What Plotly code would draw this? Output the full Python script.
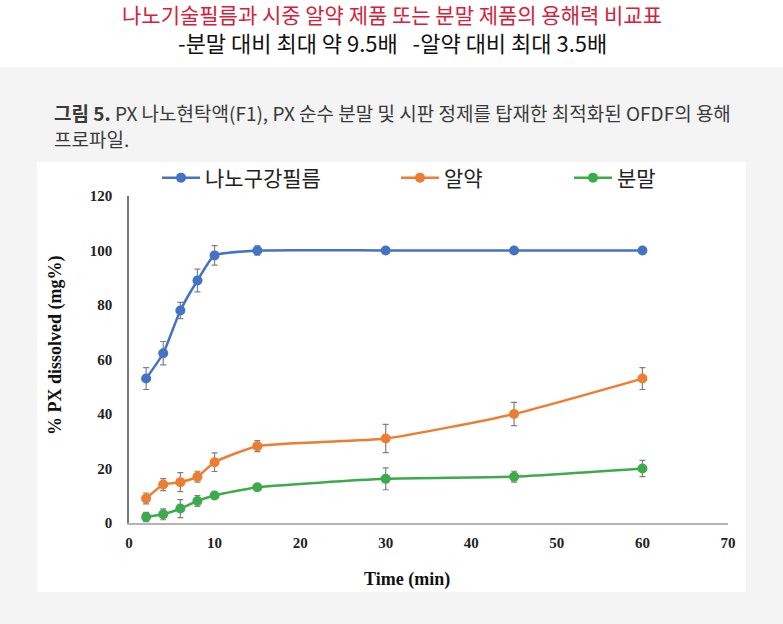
import plotly.graph_objects as go

# dissolution data
time_min = [2, 4, 6, 8, 10, 15, 30, 45, 60]

film = [53, 62.3, 78, 89, 98.2, 100, 100, 100, 100]
film_err = [4, 4.3, 3, 4.2, 3.6, 1.7, 0, 0, 0]

tablet = [9, 14.1, 15, 17, 22.3, 28.2, 31, 40, 53]
tablet_err = [2, 2.2, 3.5, 2, 3.4, 2, 5.2, 4.3, 4]

powder = [2.2, 3.2, 5.3, 8.1, 10.1, 13.1, 16.2, 17, 20]
powder_err = [1.7, 2, 3.3, 2, 0.8, 0.6, 4, 2, 3]

series_names = ["나노구강필름", "알약", "분말"]
series_colors = ["#4472c4", "#ed7d31", "#3daa4b"]
x_ticks = [0, 10, 20, 30, 40, 50, 60, 70]
y_ticks = [0, 20, 40, 60, 80, 100, 120]

title = "나노기술필름과 시중 알약 제품 또는 분말 제품의 용해력 비교표"
subtitle = "-분말 대비 최대 약 9.5배\u00a0\u00a0\u00a0-알약 대비 최대 3.5배"
caption_1 = "<b>그림 5.</b> PX 나노현탁액(F1), PX 순수 분말 및 시판 정제를 탑재한 최적화된 OFDF의 용해"
caption_2 = "프로파일."

# page geometry (pixels)
W, H = 783, 624
L, R, T, B = 129, 55, 196, 101


def px(x):
    return (x - L) / (W - L - R)


def py(y):
    return (H - B - y) / (H - T - B)


serif = "Liberation Serif"
kr = "Noto Sans CJK KR"

fig = go.Figure()

legends = ["legend", "legend2", "legend3"]
values = [film, tablet, powder]
errors = [film_err, tablet_err, powder_err]
for name, y, err, color, leg in zip(series_names, values, errors, series_colors, legends):
    fig.add_trace(
        go.Scatter(
            x=time_min,
            y=y,
            name=name,
            mode="lines+markers",
            line=dict(color=color, width=2.5, shape="spline", smoothing=0.5),
            marker=dict(size=10, color=color),
            error_y=dict(type="data", array=err, color="#808080", thickness=1.2, width=3),
            legend=leg,
            showlegend=True,
        )
    )

legend_style = dict(
    orientation="h",
    yanchor="middle",
    xanchor="left",
    y=py(178),
    itemwidth=38,
    bgcolor="rgba(0,0,0,0)",
    font=dict(family=kr, size=21, color="#222222"),
)

# background: white header, grey page, white chart panel
shapes = [
    dict(type="rect", xref="paper", yref="paper", x0=px(-10), x1=px(W + 10),
         y0=py(H + 10), y1=py(67), fillcolor="#f4f4f4", line_width=0, layer="below"),
    dict(type="rect", xref="paper", yref="paper", x0=px(37), x1=px(746),
         y0=py(592), y1=py(162), fillcolor="white", line_width=0, layer="below"),
]


def note(text, x, y, font, xanchor="center", angle=0):
    return dict(text=text, x=px(x), y=py(y), xref="paper", yref="paper", showarrow=False,
                xanchor=xanchor, yanchor="middle", textangle=angle, font=font)


annotations = [
    note(title, 392, 14, dict(family=kr, size=21, color="#d4213d")),
    note(subtitle, 392, 42, dict(family=kr, size=22, color="#111111")),
    note(caption_1, 52, 112, dict(family=kr, size=19, color="#3a3a3a"), xanchor="left"),
    note(caption_2, 52, 138, dict(family=kr, size=19, color="#3a3a3a"), xanchor="left"),
    note("Time (min)", 407, 579, dict(family=serif, size=18, color="#111111", weight="bold")),
    note("% PX dissolved (mg%)", 55, 345,
         dict(family=serif, size=18, color="#111111", weight="bold"), angle=-90),
]

fig.update_layout(
    width=W,
    height=H,
    margin=dict(l=L, r=R, t=T, b=B),
    paper_bgcolor="white",
    plot_bgcolor="white",
    showlegend=True,
    shapes=shapes,
    annotations=annotations,
    legend=dict(legend_style, x=px(157)),
    legend2=dict(legend_style, x=px(396)),
    legend3=dict(legend_style, x=px(569)),
)

fig.update_xaxes(
    range=[0, 70],
    tickvals=x_ticks,
    showgrid=False,
    zeroline=False,
    showline=True,
    linecolor="#b4b4b4",
    linewidth=1.5,
    ticks="outside",
    ticklen=5,
    tickcolor="rgba(0,0,0,0)",
    tickfont=dict(family=serif, size=15, color="#222222", weight="bold"),
)
fig.update_yaxes(
    range=[0, 120],
    tickvals=y_ticks,
    showgrid=False,
    zeroline=False,
    showline=True,
    linecolor="#777777",
    linewidth=1.5,
    ticks="outside",
    ticklen=12,
    tickcolor="rgba(0,0,0,0)",
    tickfont=dict(family=serif, size=15, color="#222222", weight="bold"),
)

# drop the browser's default body margin so the figure fills the window
fig.write_html(
    "out.html",
    config={"displayModeBar": False},
    post_script="document.body.style.margin='0';",
)
